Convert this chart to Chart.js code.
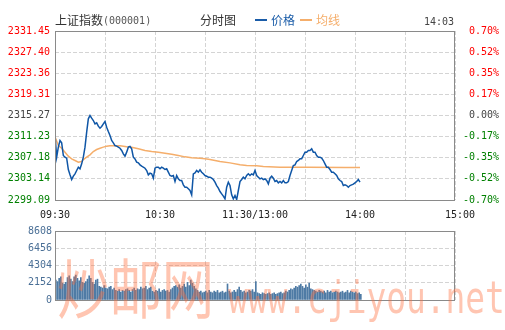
<!DOCTYPE html>
<html>
<head>
<meta charset="utf-8">
<script src="https://cdn.jsdelivr.net/npm/chart.js@4.4.0/dist/chart.umd.min.js"></script>
<style>
  html, body { margin: 0; padding: 0; background: #fff; }
  #wrap { position: relative; width: 505px; height: 330px; overflow: hidden; }
  canvas { position: absolute; left: 0; }
  #priceCanvas { top: 0; }
  #volCanvas { top: 222px; }
  .hd { position: absolute; white-space: nowrap; font-family: "Noto Sans CJK SC", sans-serif; font-size: 12px; line-height: 14px; color: #333; }
  .mono { font-family: "DejaVu Sans Mono", monospace; font-size: 10px; }
  .dash { position: absolute; height: 2px; width: 12px; }
  .wm { position: absolute; white-space: nowrap; color: rgba(255, 110, 60, 0.4); z-index: 5; pointer-events: none; }
</style>
</head>
<body>
<div id="wrap">
  <canvas id="priceCanvas" width="505" height="222"></canvas>
  <canvas id="volCanvas" width="505" height="108"></canvas>

  <div class="hd" style="left:55px; top:13px;">上证指数</div>
  <div class="hd mono" style="left:103px; top:14px; color:#555;">(000001)</div>
  <div class="hd" style="left:200px; top:13px;">分时图</div>
  <div class="dash" style="left:255px; top:19px; background:#1a5ca8;"></div>
  <div class="hd" style="left:271px; top:13px; color:#1a5ca8;">价格</div>
  <div class="dash" style="left:300px; top:19px; background:#f5ae6b;"></div>
  <div class="hd" style="left:316px; top:13px; color:#f5ae6b;">均线</div>
  <div class="hd mono" style="left:424px; top:15px; color:#444;" id="lastTime"></div>

  <div class="wm" style="left:57px; top:249px; font-family:'Noto Sans CJK SC'; font-size:54px; line-height:60px; transform:scale(0.97, 1.2); transform-origin:left top;">炒邮网</div>
  <div class="wm" style="left:228px; top:273px; font-family:'DejaVu Sans Mono'; font-size:45px; line-height:50px; transform:scaleX(0.73); transform-origin:left top;">www.cjiyou.net</div>
</div>

<script>
// 上证指数 分时, 1 value per minute from 09:30 (index 0) up to 14:03 (index 183)
const lastTime = "14:03";
const prevClose = 2315.27;

const priceTicks = [2331.45, 2327.40, 2323.36, 2319.31, 2315.27, 2311.23, 2307.18, 2303.14, 2299.09];
const pctTicks = ["0.70%", "0.52%", "0.35%", "0.17%", "0.00%", "-0.17%", "-0.35%", "-0.52%", "-0.70%"];
const volTicks = [0, 2152, 4304, 6456, 8608];

const timeTicks = [0, 60, 120, 180, 240];
const timeLabels = ["09:30", "10:30", "11:30/13:00", "14:00", "15:00"];

const price = [
  2311.57, 2307.29, 2309.21, 2310.48, 2310.04, 2307.61, 2307.29, 2307.10, 2304.93, 2303.91,
  2303.01, 2303.65, 2304.10, 2304.74, 2305.37, 2305.06, 2306.01, 2307.29, 2309.21, 2312.08,
  2314.63, 2315.27, 2314.76, 2314.31, 2313.67, 2313.87, 2313.23, 2312.84, 2313.16, 2313.67,
  2314.12, 2313.04, 2312.21, 2311.44, 2310.48, 2310.04, 2309.52, 2309.40, 2309.21, 2309.01,
  2308.57, 2307.93, 2307.48, 2308.25, 2309.21, 2309.33, 2308.89, 2307.29, 2306.97, 2306.33,
  2306.20, 2305.82, 2305.57, 2305.37, 2305.18, 2304.74, 2303.91, 2304.23, 2304.10, 2303.27,
  2305.18, 2305.37, 2305.37, 2305.06, 2305.37, 2305.18, 2304.93, 2305.06, 2304.42, 2303.78,
  2303.65, 2303.78, 2302.63, 2303.78, 2303.14, 2302.82, 2302.82, 2301.99, 2301.54, 2301.54,
  2301.23, 2300.91, 2300.08, 2304.10, 2304.29, 2304.74, 2304.42, 2304.86, 2304.42, 2304.10,
  2303.78, 2303.65, 2303.46, 2303.46, 2303.27, 2303.01, 2302.50, 2301.86, 2301.35, 2300.71,
  2300.27, 2299.82, 2299.31, 2301.54, 2302.50, 2301.86, 2300.08, 2299.31, 2299.95, 2299.18,
  2300.91, 2302.63, 2303.01, 2303.46, 2303.14, 2303.78, 2304.10, 2303.78, 2304.10, 2303.91,
  2304.74, 2303.78, 2303.46, 2303.14, 2303.27, 2303.01, 2303.14, 2302.82, 2302.18, 2303.27,
  2303.65, 2303.27, 2302.63, 2302.82, 2302.37, 2302.63, 2302.37, 2302.82, 2302.37, 2302.37,
  2302.63, 2303.78, 2304.74, 2305.69, 2305.82, 2306.46, 2306.65, 2306.97, 2306.97, 2307.61,
  2308.25, 2308.25, 2308.57, 2308.57, 2308.89, 2308.25, 2308.25, 2307.61, 2307.29, 2307.29,
  2307.10, 2306.65, 2306.01, 2305.37, 2305.37, 2304.93, 2304.42, 2304.42, 2304.10, 2303.78,
  2303.14, 2302.82, 2302.63, 2301.86, 2301.99, 2301.86, 2301.54, 2301.86, 2301.99, 2302.12,
  2302.37, 2302.63, 2303.01, 2302.50
];

// 均线, read at the minutes where its slope changes
const avgMinutes = [0, 2, 4, 6, 8, 10, 12, 14, 16, 17, 19, 21, 23, 25, 27, 29, 31, 33, 39, 41,
  43, 46, 50, 54, 58, 62, 66, 70, 74, 78, 82, 87, 90, 93, 99, 105, 111, 115, 121, 125,
  135, 152, 174, 183];
const avgPrice = [2311.20, 2309.52, 2309.01, 2308.25, 2307.48, 2306.97, 2306.65, 2306.33, 2306.46, 2306.84,
  2307.29, 2307.74, 2308.38, 2308.76, 2309.01, 2309.21, 2309.40, 2309.46, 2309.46, 2309.40,
  2309.27, 2309.21, 2308.89, 2308.57, 2308.38, 2308.25, 2308.06, 2307.86, 2307.61, 2307.35,
  2307.16, 2307.10, 2306.97, 2306.84, 2306.46, 2306.20, 2305.82, 2305.69, 2305.63, 2305.50,
  2305.37, 2305.37, 2305.31, 2305.31];

const volume = [
  2500, 2300, 2700, 2900, 2100, 2000, 2200, 2800, 3000, 2600,
  2300, 2900, 3100, 2700, 2400, 2800, 2200, 2100, 2300, 2600,
  3000, 2700, 2200, 2000, 2500, 2600, 1700, 1600, 1500, 1800,
  1500, 1400, 1600, 1700, 1300, 1500, 1200, 1100, 1300, 1000,
  1200, 1100, 1300, 1400, 1200, 1000, 1300, 1500, 1200, 1400,
  1300, 1600, 1400, 1500, 1700, 1300, 1500, 1600, 1100, 1000,
  1200, 1100, 1400, 1000, 1200, 1300, 1100, 1200, 1000, 1300,
  1500, 1700, 1800, 1600, 1900, 1500, 1700, 2000, 1600, 2200,
  1800, 2500, 2100, 1700, 1400, 1200, 1000, 1100, 900, 1000,
  1100, 900, 1200, 1000, 900, 1100, 1000, 1200, 900, 1000,
  1100, 900, 1000, 2000, 1100, 900, 1000, 1200, 1000, 1300,
  1600, 1200, 1000, 1100, 900, 1000, 1200, 1100, 1300, 1000,
  2300, 900, 800, 700, 900, 800, 700, 800, 900, 700,
  800, 900, 700, 800, 900, 1000, 800, 900, 1100, 1000,
  1200, 1400, 1300, 1500, 1700, 1600, 1800, 2000, 1700, 1500,
  1900, 1600, 2100, 1400, 1300, 1200, 1100, 1000, 1200, 1100,
  1000, 1100, 900, 1200, 1000, 1100, 900, 1000, 1100, 1000,
  900, 1000, 1100, 900, 1000, 1200, 900, 1100, 1000, 900,
  1000, 800, 900, 700
];

document.getElementById("lastTime").textContent = lastTime;

const monoFont = { family: "DejaVu Sans Mono", size: 10 };
const gridColor = "#d4d4d4";

function tickColor(value) {
  if (Math.abs(value - prevClose) < 0.001) return "#444";
  return value > prevClose ? "#ff0000" : "#008000";
}

// frame around the plot + time labels under it
const frameBox = {
  id: "frameBox",
  afterDraw(chart) {
    const { ctx, chartArea: a } = chart;
    ctx.save();
    ctx.strokeStyle = "#8a8a8a";
    ctx.lineWidth = 1;
    ctx.strokeRect(a.left + 0.5, a.top + 0.5, a.right - a.left - 1, a.bottom - a.top);
    ctx.restore();
  }
};

const timeAxisLabels = {
  id: "timeAxisLabels",
  afterDraw(chart) {
    const { ctx, scales } = chart;
    const shift = [0, 5, 0, 5, 5];
    ctx.save();
    ctx.font = "10px 'DejaVu Sans Mono'";
    ctx.fillStyle = "#222";
    ctx.textAlign = "center";
    ctx.textBaseline = "middle";
    timeTicks.forEach((m, i) => {
      ctx.fillText(timeLabels[i], scales.x.getPixelForValue(m) + shift[i], 215.5);
    });
    ctx.restore();
  }
};

new Chart(document.getElementById("priceCanvas"), {
  type: "line",
  data: {
    datasets: [
      {
        label: "价格",
        data: price.map((p, i) => ({ x: i, y: p })),
        borderColor: "#0f56a6",
        borderWidth: 1.5,
        pointRadius: 0,
        tension: 0,
        order: 1
      },
      {
        label: "均线",
        data: avgMinutes.map((m, i) => ({ x: m, y: avgPrice[i] })),
        borderColor: "#f5ae6b",
        borderWidth: 1.5,
        pointRadius: 0,
        tension: 0,
        order: 2
      }
    ]
  },
  options: {
    responsive: false,
    animation: false,
    layout: { padding: { top: 31, right: 6, left: 0, bottom: 0 } },
    plugins: { legend: { display: false }, tooltip: { enabled: false } },
    scales: {
      x: {
        type: "linear",
        min: 0,
        max: 240,
        ticks: { display: false, stepSize: 30 },
        grid: { color: gridColor, drawTicks: false },
        border: { display: false, dash: [4, 2] },
        afterFit: (s) => { s.height = 22; }
      },
      y: {
        position: "left",
        min: priceTicks[priceTicks.length - 1],
        max: priceTicks[0],
        afterBuildTicks: (s) => { s.ticks = priceTicks.slice().reverse().map(v => ({ value: v })); },
        ticks: {
          autoSkip: false,
          padding: 5,
          font: monoFont,
          color: (c) => tickColor(c.tick.value),
          callback: (v) => v.toFixed(2)
        },
        grid: { color: gridColor, drawTicks: false },
        border: { display: false, dash: [4, 2] },
        afterFit: (s) => { s.width = 55; }
      },
      y2: {
        position: "right",
        min: priceTicks[priceTicks.length - 1],
        max: priceTicks[0],
        afterBuildTicks: (s) => { s.ticks = priceTicks.slice().reverse().map(v => ({ value: v })); },
        ticks: {
          autoSkip: false,
          crossAlign: "far",
          font: monoFont,
          color: (c) => tickColor(c.tick.value),
          callback: (v) => pctTicks[priceTicks.indexOf(v)]
        },
        grid: { display: false, drawTicks: false },
        border: { display: false },
        afterFit: (s) => { s.width = 44; }
      }
    }
  },
  plugins: [frameBox, timeAxisLabels]
});

new Chart(document.getElementById("volCanvas"), {
  type: "bar",
  data: {
    datasets: [{
      label: "成交量",
      data: volume.map((v, i) => ({ x: i + 0.5, y: v })),
      backgroundColor: "#4f7ba5",
      barThickness: 1
    }]
  },
  options: {
    responsive: false,
    animation: false,
    layout: { padding: { top: 8, right: 50, left: 0, bottom: 30 } },
    plugins: { legend: { display: false }, tooltip: { enabled: false } },
    scales: {
      x: {
        type: "linear",
        min: 0,
        max: 240,
        offset: false,
        ticks: { display: false, stepSize: 30 },
        grid: { color: gridColor, drawTicks: false, offset: false },
        border: { display: false, dash: [4, 2] },
        afterFit: (s) => { s.height = 0; }
      },
      y: {
        min: 0,
        max: volTicks[volTicks.length - 1],
        afterBuildTicks: (s) => { s.ticks = volTicks.map(v => ({ value: v })); },
        ticks: {
          autoSkip: false,
          padding: 3,
          font: monoFont,
          color: "#4a6f96",
          callback: (v) => String(v)
        },
        grid: { color: gridColor, drawTicks: false },
        border: { display: false, dash: [4, 2] },
        afterFit: (s) => { s.width = 55; }
      }
    }
  },
  plugins: [frameBox]
});
</script>
</body>
</html>
